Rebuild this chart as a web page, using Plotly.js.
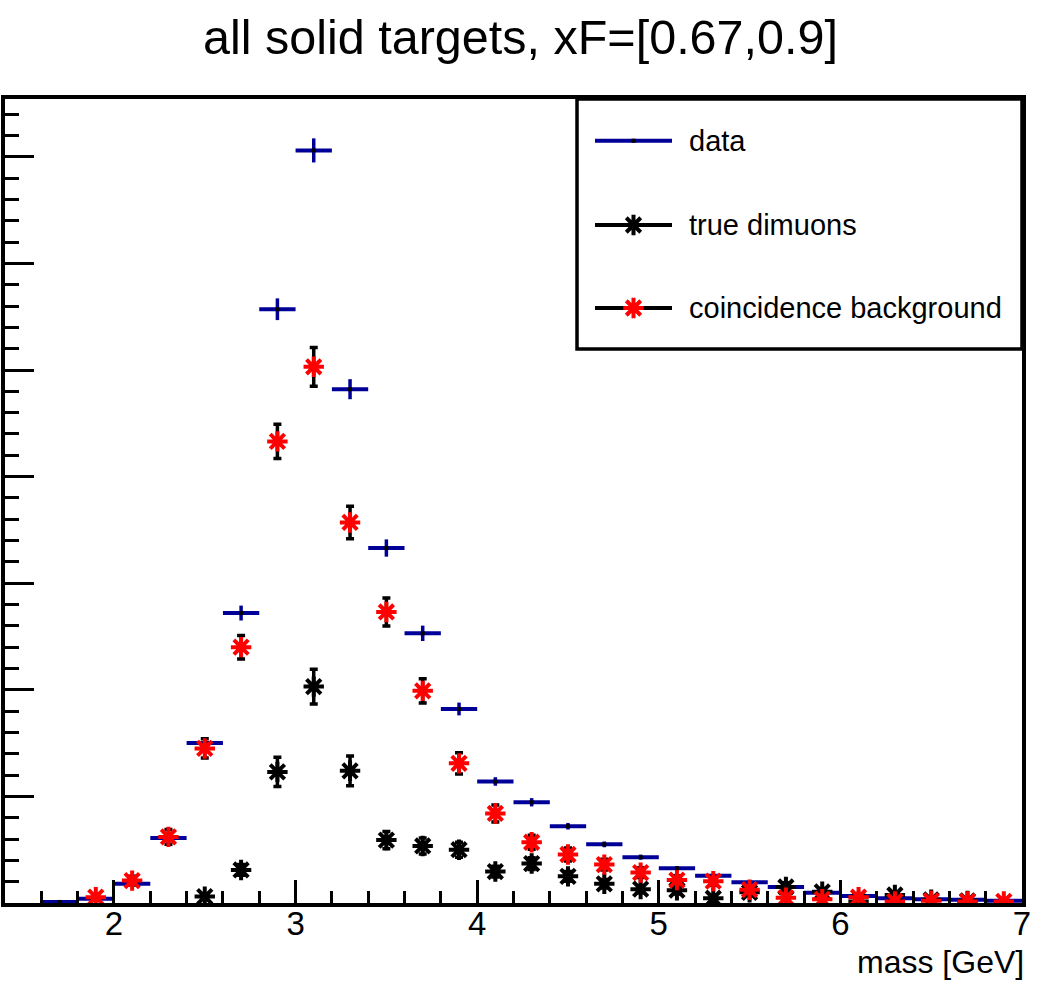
<!DOCTYPE html>
<html>
<head>
<meta charset="utf-8">
<script src="https://cdn.plot.ly/plotly-3.0.1.min.js"></script>
<style>
  html, body { margin: 0; padding: 0; background: #ffffff; }
  #chart { width: 1044px; height: 995px; }
</style>
</head>
<body>
<div id="chart"></div>
<script>
// ---------- data ----------
const massBins = [1.7, 1.9, 2.1, 2.3, 2.5, 2.7, 2.9, 3.1, 3.3, 3.5, 3.7, 3.9, 4.1, 4.3,
                  4.5, 4.7, 4.9, 5.1, 5.3, 5.5, 5.7, 5.9, 6.1, 6.3, 6.5, 6.7, 6.9];
const binHalfWidth = 0.1;

const dataCounts = [0.1, 0.4, 1.8, 6.1, 15.0, 27.2, 55.7, 70.6, 48.2, 33.3, 25.3, 18.2, 11.4, 9.45,
                    7.2, 5.5, 4.3, 3.25, 2.55, 1.95, 1.5, 0.97, 0.65, 0.45, 0.35, 0.3, 0.2];
const dataErrors = [0.05, 0.1, 0.2, 0.3, 0.45, 0.7, 1.02, 1.13, 0.94, 0.81, 0.72, 0.6, 0.4, 0.39,
                    0.31, 0.27, 0.24, 0.21, 0.19, 0.17, 0.15, 0.12, 0.1, 0.08, 0.07, 0.07, 0.05];

const trueDimuons = [null, null, null, null, 0.6, 3.1, 12.3, 20.3, 12.4, 5.9, 5.35, 5.0, 2.95, 3.7,
                     2.5, 1.8, 1.3, 1.2, 0.45, 1.0, 1.5, 1.05, 0.15, 0.75, 0.3, 0.2, null];
const trueErrors = [null, null, null, null, 0.2, 0.5, 1.38, 1.63, 1.39, 0.8, 0.75, 0.7, 0.5, 0.55,
                    0.45, 0.4, 0.35, 0.35, 0.2, 0.3, 0.4, 0.3, 0.1, 0.25, 0.15, 0.1, null];

const coincidence = [null, 0.55, 2.1, 6.2, 14.5, 24.0, 43.3, 50.3, 35.7, 27.3, 19.9, 13.1, 8.4, 5.7,
                     4.55, 3.6, 2.85, 2.15, 2.05, 1.25, 0.5, 0.35, 0.55, 0.15, 0.2, 0.15, 0.15];
const coincErrors = [null, 0.2, 0.4, 0.7, 0.9, 1.1, 1.6, 1.82, 1.53, 1.31, 1.13, 1.0, 0.8, 0.65,
                     0.6, 0.5, 0.45, 0.4, 0.4, 0.3, 0.2, 0.2, 0.2, 0.1, 0.1, 0.1, 0.1];

const xTickValues = [2, 3, 4, 5, 6, 7];
const xTickLabels = ["2", "3", "4", "5", "6", "7"];
const legendLabels = ["data", "true dimuons", "coincidence background"];
const titleText = "all solid targets, xF=[0.67,0.9]";
const xTitleText = "mass [GeV]";

// ---------- styling ----------
const FONT = "Liberation Sans, Arial, Helvetica, sans-serif";
const NAVY = "#000099";
const W = 1044, H = 995;
const plotL = 5, plotR = 1022, plotT = 99, plotB = 903;
const pw = plotR - plotL, ph = plotB - plotT;
const px2x = p => (p - plotL) / pw;
const py2y = p => (plotB - p) / ph;
const STAR_SIZE = 17, STAR_LW = 4;

const traces = [
  {
    type: "scatter", mode: "markers", name: legendLabels[0],
    x: massBins, y: dataCounts,
    marker: { symbol: "square", size: 4, color: "#000000" },
    error_x: { type: "constant", value: binHalfWidth, color: NAVY, thickness: 4, width: 0 },
    error_y: { type: "data", array: dataErrors, color: NAVY, thickness: 3.5, width: 0 },
    hoverinfo: "skip"
  },
  {
    type: "scatter", mode: "markers", name: legendLabels[1],
    x: massBins, y: trueDimuons,
    marker: { symbol: "asterisk-open", size: STAR_SIZE, color: "#000000", line: { width: STAR_LW, color: "#000000" } },
    error_y: { type: "data", array: trueErrors, color: "#000000", thickness: 3.5, width: 4 },
    hoverinfo: "skip"
  },
  {
    type: "scatter", mode: "markers", name: legendLabels[2],
    x: massBins, y: coincidence,
    marker: { symbol: "asterisk-open", size: STAR_SIZE, color: "#ff0000", line: { width: STAR_LW, color: "#ff0000" } },
    error_y: { type: "data", array: coincErrors, color: "#000000", thickness: 3.5, width: 4 },
    hoverinfo: "skip"
  }
];

// legend geometry (pixels)
const legBox = { x0: 577, x1: 1022, y0: 99, y1: 349 };
const legRows = [140.7, 225, 308];
const legLineX0 = 595, legLineX1 = 672, legTextX = 687;
const legMid = px2x((legLineX0 + legLineX1) / 2);

// legend symbol markers on an overlay axis in [0,1]
traces.push({
  type: "scatter", mode: "markers", xaxis: "x2", yaxis: "y2",
  x: [legMid], y: [py2y(legRows[0])],
  marker: { symbol: "square", size: 4, color: "#000000" }, hoverinfo: "skip"
});
traces.push({
  type: "scatter", mode: "markers", xaxis: "x2", yaxis: "y2",
  x: [legMid], y: [py2y(legRows[1])],
  marker: { symbol: "asterisk-open", size: STAR_SIZE, color: "#000000", line: { width: STAR_LW, color: "#000000" } }, hoverinfo: "skip"
});
traces.push({
  type: "scatter", mode: "markers", xaxis: "x2", yaxis: "y2",
  x: [legMid], y: [py2y(legRows[2])],
  marker: { symbol: "asterisk-open", size: STAR_SIZE, color: "#ff0000", line: { width: STAR_LW, color: "#ff0000" } }, hoverinfo: "skip"
});

const legColors = [NAVY, "#000000", "#000000"];
const shapes = [
  { type: "rect", xref: "paper", yref: "paper",
    x0: px2x(legBox.x0), x1: px2x(legBox.x1), y0: py2y(legBox.y1), y1: py2y(legBox.y0),
    line: { color: "#000000", width: 3.5 }, fillcolor: "#ffffff", layer: "below" }
];
legRows.forEach((r, i) => {
  shapes.push({ type: "line", xref: "paper", yref: "paper",
    x0: px2x(legLineX0), x1: px2x(legLineX1), y0: py2y(r), y1: py2y(r),
    line: { color: legColors[i], width: 4 }, layer: "below" });
});

const annotations = legRows.map((r, i) => ({
  xref: "paper", yref: "paper", x: px2x(legTextX), y: py2y(r),
  xanchor: "left", yanchor: "middle", text: legendLabels[i], showarrow: false,
  font: { family: FONT, size: 29, color: "#000000" }
}));
annotations.push({
  xref: "paper", yref: "paper", x: 1.004, y: py2y(962),
  xanchor: "right", yanchor: "middle", text: xTitleText, showarrow: false,
  font: { family: FONT, size: 32, color: "#000000" }
});

const layout = {
  width: W, height: H,
  paper_bgcolor: "#ffffff", plot_bgcolor: "#ffffff",
  margin: { l: plotL, r: W - plotR, t: plotT, b: H - plotB, pad: 0 },
  showlegend: false,
  title: { text: titleText, x: 520.5 / W, xref: "container", xanchor: "center",
           y: 1 - 37 / H, yref: "container", yanchor: "middle",
           font: { family: FONT, size: 48.5, color: "#000000" } },
  xaxis: {
    range: [1.4, 7], showgrid: false, zeroline: false,
    showline: true, linecolor: "#000000", linewidth: 4, mirror: true,
    ticks: "inside", ticklen: 23, tickwidth: 3, tickcolor: "#000000",
    tickvals: xTickValues, ticktext: xTickLabels,
    tickfont: { family: FONT, size: 33, color: "#000000" },
    ticklabelstandoff: -12,
    minor: { dtick: 0.2, tick0: 0, ticks: "inside", ticklen: 12, tickwidth: 3, tickcolor: "#000000", showgrid: false },
    fixedrange: true
  },
  yaxis: {
    range: [0, (plotB - plotT) / 10.66], showgrid: false, zeroline: false,
    showline: true, linecolor: "#000000", linewidth: 4, mirror: true,
    ticks: "inside", ticklen: 29, tickwidth: 3, tickcolor: "#000000",
    dtick: 10, tick0: 0, showticklabels: false,
    minor: { dtick: 2, tick0: 0, ticks: "inside", ticklen: 14, tickwidth: 3, tickcolor: "#000000", showgrid: false },
    fixedrange: true
  },
  xaxis2: { overlaying: "x", range: [0, 1], visible: false, fixedrange: true },
  yaxis2: { overlaying: "y", range: [0, 1], visible: false, fixedrange: true },
  shapes: shapes,
  annotations: annotations
};

Plotly.newPlot("chart", traces, layout, { staticPlot: true, displayModeBar: false });
</script>
</body>
</html>
